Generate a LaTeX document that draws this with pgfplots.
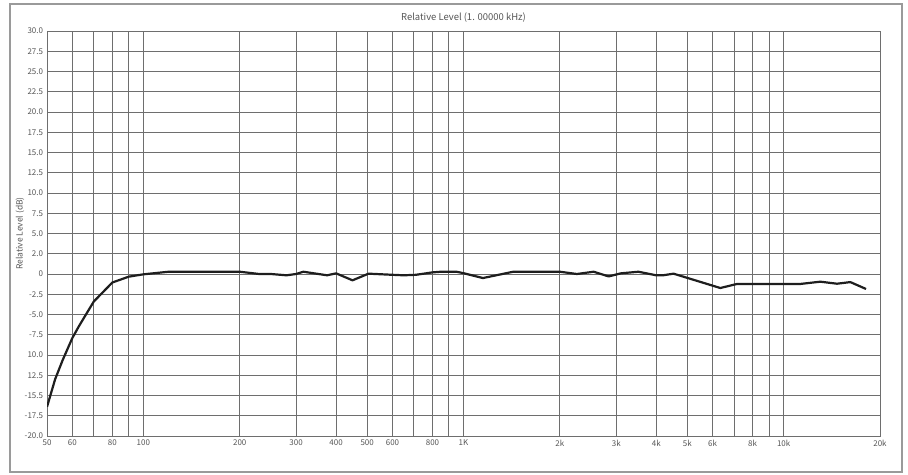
\documentclass[border=0pt]{standalone}
\usepackage{fontspec}
\setmainfont{Noto Sans CJK SC}
\usepackage{pgfplots}
\pgfplotsset{compat=1.18}
\definecolor{gridgray}{HTML}{6E6E6E}
\definecolor{txtgray}{HTML}{555555}
\definecolor{framegray}{HTML}{9A9A9A}
\definecolor{curve}{HTML}{1E1E1E}
\begin{document}
\begin{tikzpicture}
\useasboundingbox (-47bp,-39bp) rectangle (861bp,436bp);
\draw[framegray, line width=1.2bp] (-37bp,-36bp) rectangle (855bp,432bp);
\begin{axis}[
	at={(0,0)}, anchor=south west,
	scale only axis, width=833bp, height=405bp,
	xmode=log, xmin=50, xmax=20000,
	ymin=-20, ymax=30,
	xtick={50,60,70,80,90,100,200,300,400,500,600,700,800,900,1000,2000,3000,4000,5000,6000,7000,8000,9000,10000,20000},
	xticklabels={50,60,,80,,100,200,300,400,500,600,,800,,1K,2k,3k,4k,5k,6k,,8k,,10k,20k},
	ytick={-20,-17.5,-15,-12.5,-10,-7.5,-5,-2.5,0,2.5,5,7.5,10,12.5,15,17.5,20,22.5,25,27.5,30},
	yticklabels={-20.0,-17.5,-15.5,12.5,10.0,-7.5,-5.0,-2.5,0,2.0,5.0,7.5,10.0,12.5,15.0,17.5,20.0,22.5,25.0,27.5,30.0},
	minor xtick={},
	grid=major,
	major grid style={gridgray, line width=0.9bp},
	axis line style={gridgray, line width=0.9bp},
	major tick length=0pt,
	tick label style={font=\fontsize{8}{9}\selectfont, text=txtgray},
	xticklabel style={yshift=-0.5bp},
	yticklabel style={xshift=-0.5bp},
	title={Relative Level (1. 00000 kHz)},
	title style={at={(0.5,1)}, anchor=center, yshift=7bp, font=\fontsize{9.5}{10}\selectfont, text=txtgray},
	ylabel={Relative Level (dB)},
	ylabel style={at={(axis description cs:0,0.5)}, anchor=center, yshift=27bp, font=\fontsize{8.5}{9}\selectfont, text=txtgray},
]
\addplot[curve, line width=2.2bp, line join=round] coordinates {
	(50,-16.4) (53,-13.0) (56,-10.6) (60,-7.9) (63,-6.4) (70,-3.4)
	(80,-1.05) (90,-0.33) (100,-0.04) (120,0.28) (200,0.28) (230,0.0)
	(250,0.0) (280,-0.16) (300,0.0) (316,0.28) (375,-0.16) (400,0.08)
	(450,-0.78) (505,0.04) (600,-0.1) (650,-0.16) (710,-0.1) (800,0.2)
	(850,0.28) (950,0.28) (1000,0.1) (1150,-0.5) (1430,0.28) (2000,0.28)
	(2260,0.0) (2550,0.28) (2840,-0.3) (3100,0.08) (3520,0.28) (4000,-0.16)
	(4200,-0.16) (4530,0.04) (6340,-1.73) (7150,-1.23) (11270,-1.23)
	(13020,-0.95) (14680,-1.2) (16160,-1.0) (18090,-1.85)
};
\end{axis}
\end{tikzpicture}
\end{document}
